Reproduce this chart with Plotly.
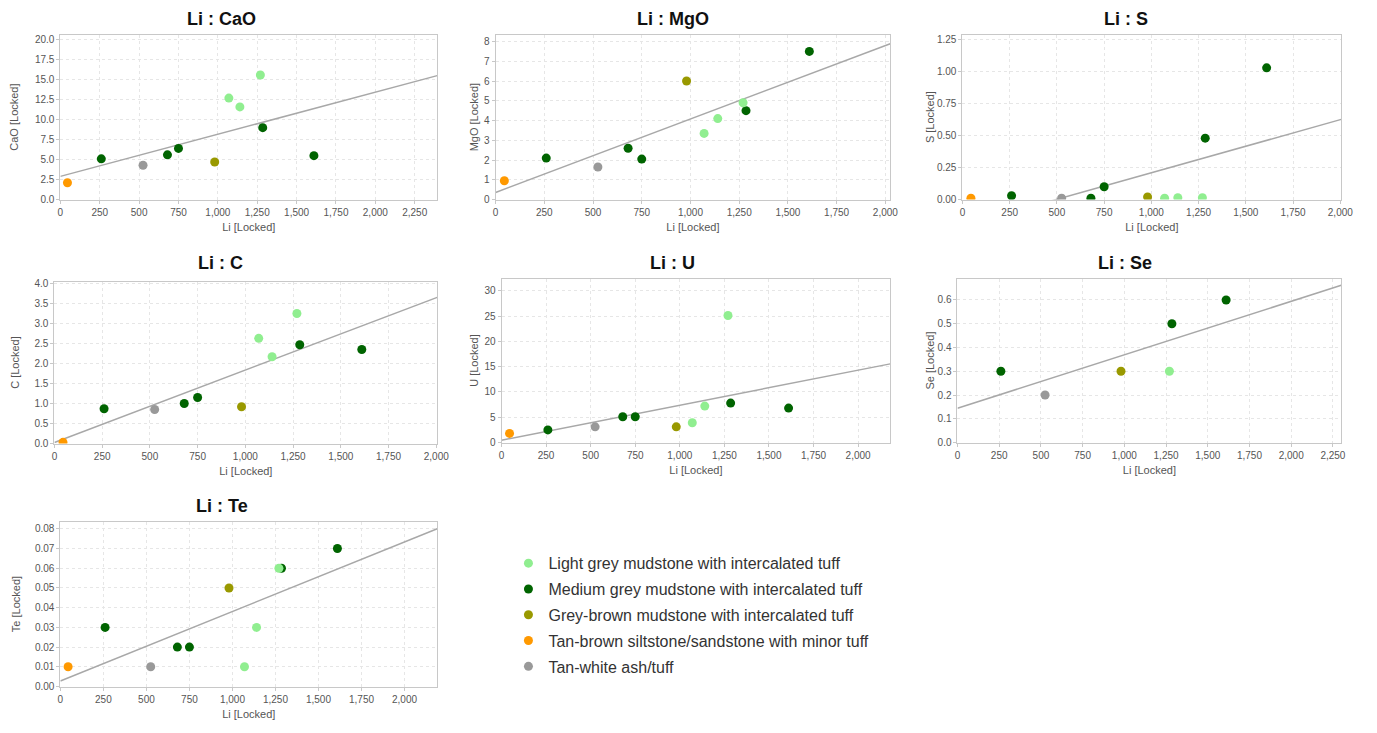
import numpy as np
import plotly.graph_objects as go

# ---- data ----
lith_light = "Light grey mudstone with intercalated tuff"
lith_medium = "Medium grey mudstone with intercalated tuff"
lith_greybrown = "Grey-brown mudstone with intercalated tuff"
lith_tanbrown = "Tan-brown siltstone/sandstone with minor tuff"
lith_tanwhite = "Tan-white ash/tuff"

lithologies = [lith_light, lith_medium, lith_greybrown, lith_tanbrown, lith_tanwhite]
lith_colors = ["#90EE90", "#006400", "#999900", "#FF9900", "#999999"]

sample_li = [45, 260, 525, 680, 750, 980, 1070, 1140, 1270, 1285, 1610]
sample_lith = [lith_tanbrown, lith_medium, lith_tanwhite, lith_medium, lith_medium,
               lith_greybrown, lith_light, lith_light, lith_light, lith_medium, lith_medium]

cao = [2.1, 5.1, 4.3, 5.6, 6.4, 4.7, 12.7, 11.6, 15.6, 9.0, 5.5]
mgo = [0.95, 2.1, 1.65, 2.6, 2.05, 6.0, 3.35, 4.1, 4.9, 4.5, 7.5]
s = [0.01, 0.03, 0.01, 0.01, 0.1, 0.02, 0.01, 0.015, 0.015, 0.48, 1.03]
c = [0.03, 0.87, 0.85, 1.0, 1.15, 0.92, 2.63, 2.17, 3.25, 2.47, 2.35]
u = [1.8, 2.5, 3.1, 5.1, 5.1, 3.1, 3.9, 7.2, 25.1, 7.8, 6.8]
se = [None, 0.3, 0.2, None, None, 0.3, None, None, 0.3, 0.5, 0.6]
te = [0.01, 0.03, 0.01, 0.02, 0.02, 0.05, 0.01, 0.03, 0.06, 0.06, 0.07]

element_names = ["CaO", "MgO", "S", "C", "U", "Se", "Te"]
element_values = [cao, mgo, s, c, u, se, te]

# ---- layout/styling ----
W, H = 1377, 733
# plot-area pixel boxes: (left, right, top, bottom)
boxes = [
    (58, 439, 32, 199),
    (498, 897, 32, 199),
    (970, 1353, 32, 199),
    (52, 439, 282, 446),
    (504, 897, 279, 445),
    (965, 1353, 279, 445),
    (58, 439, 525, 692),
]
title_pos = [(221, 16), (677, 16), (1135, 16), (220, 263), (677, 263), (1134, 263), (221, 509)]
x_ranges = [[0, 2393], [0, 2025], [0, 2005], [0, 2005], [0, 2180], [0, 2300], [0, 2190]]
y_ranges = [[0, 20.65], [0, 8.35], [0, 1.29], [0, 4.05], [0, 32.4], [0, 0.69], [0, 0.0837]]
y_dtick = [2.5, 1, 0.25, 0.5, 5, 0.1, 0.01]
y_fmt = [".1f", "d", ".2f", ".1f", "d", ".1f", ".2f"]
y_standoff = [14, 3, 0, 12, 3, 0, 12]

FONT = "Liberation Sans, Arial, sans-serif"
fig = go.Figure()
layout = dict(
    width=W, height=H,
    margin=dict(l=0, r=0, t=0, b=0),
    paper_bgcolor="white", plot_bgcolor="white",
    font=dict(family=FONT, color="#555555", size=10),
    showlegend=True,
    legend=dict(
        x=511 / W, y=1 - 550 / H, xanchor="left", yanchor="top",
        font=dict(size=16, color="#333333", family=FONT),
        tracegroupgap=2, bgcolor="rgba(0,0,0,0)", itemwidth=30,
    ),
    annotations=[],
)

for i, (name, vals) in enumerate(zip(element_names, element_values)):
    k = i + 1
    xa = "x" if k == 1 else f"x{k}"
    ya = "y" if k == 1 else f"y{k}"
    l, r, t, b = boxes[i]
    axis_common = dict(
        showgrid=True, gridcolor="#E6E6E6", griddash="dot", gridwidth=1,
        showline=True, linecolor="#C8C8C8", linewidth=1, mirror=True,
        ticks="outside", ticklen=3, tickcolor="#C8C8C8",
        zeroline=False, tickfont=dict(size=10, color="#555555"),
    )
    layout["xaxis" if k == 1 else f"xaxis{k}"] = dict(
        axis_common, domain=[l / W, r / W], anchor=ya, range=x_ranges[i],
        dtick=250, tick0=0, tickformat=",d",
        title=dict(text="Li [Locked]", font=dict(size=11, color="#555555"), standoff=6),
    )
    layout["yaxis" if k == 1 else f"yaxis{k}"] = dict(
        axis_common, domain=[1 - b / H, 1 - t / H], anchor=xa, range=y_ranges[i],
        dtick=y_dtick[i], tick0=0, tickformat=y_fmt[i],
        title=dict(text=f"{name} [Locked]", font=dict(size=11, color="#555555"),
                   standoff=y_standoff[i]),
    )
    tx, ty = title_pos[i]
    layout["annotations"].append(dict(
        text=f"<b>Li : {name}</b>", x=tx / W, y=1 - ty / H, xref="paper", yref="paper",
        showarrow=False, xanchor="center", yanchor="middle",
        font=dict(size=18, color="#111111", family=FONT),
    ))

    # regression line over available points
    xs = np.array([x for x, v in zip(sample_li, vals) if v is not None], dtype=float)
    ys = np.array([v for v in vals if v is not None], dtype=float)
    slope, intercept = np.polyfit(xs, ys, 1)
    lx = np.array(x_ranges[i], dtype=float)
    fig.add_trace(go.Scatter(
        x=lx, y=slope * lx + intercept, mode="lines",
        line=dict(color="#A8A8A8", width=1.5), showlegend=False,
        hoverinfo="skip", xaxis=xa, yaxis=ya,
    ))

    # points per lithology (medium drawn first so light sits on top)
    draw_order = [1, 4, 3, 2, 0]
    for j in draw_order:
        lith = lithologies[j]
        px = [x for x, lt, v in zip(sample_li, sample_lith, vals) if lt == lith and v is not None]
        py = [v for lt, v in zip(sample_lith, vals) if lt == lith and v is not None]
        if not px:
            continue
        fig.add_trace(go.Scatter(
            x=px, y=py, mode="markers", name=lith,
            marker=dict(color=lith_colors[j], size=9, line=dict(width=0)),
            legendgroup=lith, legendrank=j + 1, showlegend=(k == 1),
            xaxis=xa, yaxis=ya,
        ))

fig.update_layout(**layout)
fig.write_html("out.html")
